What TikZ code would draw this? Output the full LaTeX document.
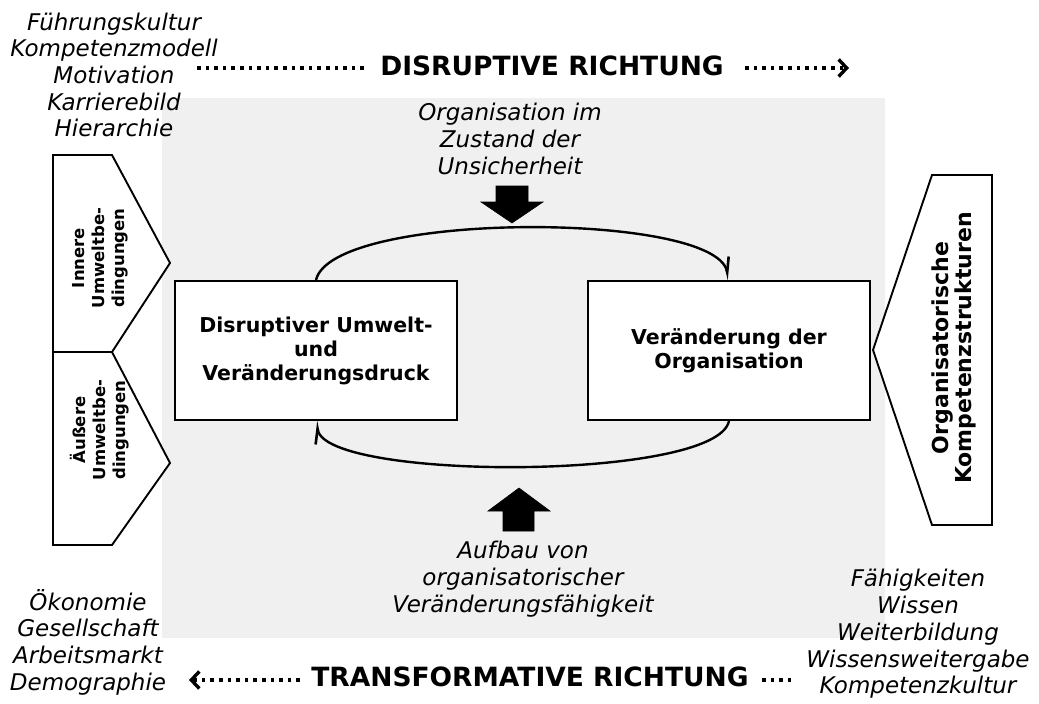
\documentclass[tikz,border=0pt]{standalone}
\usepackage{fontspec}
\setmainfont{DejaVu Sans}
\usetikzlibrary{arrows.meta}
\definecolor{panel}{HTML}{F0F0F0}

\begin{document}
\begin{tikzpicture}[x=1pt,y=-1pt,
  listtext/.style={font=\fontsize{23}{26.7}\selectfont\itshape, align=center, inner sep=0pt},
  dirtitle/.style={font=\fontsize{26.5}{30}\selectfont\bfseries, inner sep=0pt},
  mainbox/.style={draw, line width=1.9pt, fill=white, minimum width=282pt,
    minimum height=139pt, align=center, inner sep=0pt,
    font=\fontsize{20.5}{24}\selectfont\bfseries},
  tab/.style={draw, line width=1.9pt, fill=white, line join=miter},
  tablabel/.style={rotate=90, align=center, inner sep=0pt},
  cycle/.style={line width=2.4pt, -{Straight Barb[harpoon,length=15pt,width=10pt,line width=2.6pt]}},
  dotline/.style={line width=3.6pt, dash pattern=on 3.6pt off 5pt},
  dottip/.style={-{Straight Barb[length=8pt,width=17pt,line width=3.4pt]}},
  block/.style={fill=black, draw=black, line width=0.6pt, line join=miter}
]
\useasboundingbox (0,0) rectangle (1039,704);

% shaded central panel
\fill[panel] (162,98) rectangle (885,638);

% environment tabs on the left
\draw[tab] (53,155) -- (112,155) -- (170,263) -- (112,352) -- (53,352) -- cycle;
\draw[tab] (53,352) -- (112,352) -- (170,463) -- (112,545) -- (53,545) -- cycle;
\node[tablabel, font=\fontsize{16.5}{20}\selectfont\bfseries] (inner) at (100,258) {Innere\\Umweltbe-\\dingungen};
\node[tablabel, font=\fontsize{16.5}{20}\selectfont\bfseries] (outer) at (100,430) {Äußere\\Umweltbe-\\dingungen};

% competence tab on the right
\draw[tab] (932,175) -- (992,175) -- (992,525) -- (932,525) -- (873,350) -- cycle;
\node[tablabel, font=\fontsize{22}{23}\selectfont\bfseries] (comp) at (954,348) {Organisatorische\\Kompetenzstrukturen};

% the two states
\node[mainbox] (press) at (316,350.5) {Disruptiver Umwelt-\\und\\Veränderungsdruck};
\node[mainbox] (change) at (729,350.5) {Veränderung der\\Organisation};

% cycle between them
\draw[cycle] (press.north) .. controls +(16,-69) and +(-16,-69) .. (change.north);
\draw[cycle] (change.south) .. controls +(-12,60) and +(12,60) .. (press.south);

% block arrows
\fill[block] (496,186) -- (528,186) -- (528,202) -- (543,202) -- (512,223) -- (481,202) -- (496,202) -- cycle;
\fill[block] (503,531) -- (534,531) -- (534,511) -- (550,511) -- (519,488) -- (488,511) -- (503,511) -- cycle;

% captions in the panel
\node[listtext] (unsure) at (510,139) {Organisation im\\Zustand der\\Unsicherheit};
\node[listtext] (build) at (523,579) {Aufbau von\\organisatorischer\\Veränderungsfähigkeit};

% factor lists
\node[listtext] (inlist) at (114,75) {Führungskultur\\Kompetenzmodell\\Motivation\\Karrierebild\\Hierarchie};
\node[listtext] (outlist) at (88,642) {Ökonomie\\Gesellschaft\\Arbeitsmarkt\\Demographie};
\node[listtext] (complist) at (918,634) {Fähigkeiten\\Wissen\\Weiterbildung\\Wissensweitergabe\\Kompetenzkultur};

% direction headings with dotted arrows
\node[dirtitle] (disr) at (552,66) {DISRUPTIVE RICHTUNG};
\node[dirtitle] (trans) at (530,677) {TRANSFORMATIVE RICHTUNG};

\coordinate (d0) at (197,68);
\coordinate (d1) at (366,68);
\coordinate (d2) at (745,68);
\coordinate (d3) at (849,68);
\draw[dotline] (d0) -- (d1);
\draw[dotline, dottip] (d2) -- (d3);

\coordinate (t0) at (300,680);
\coordinate (t1) at (189,680);
\coordinate (t2) at (762,680);
\coordinate (t3) at (792,680);
\draw[dotline, dottip] (t0) -- (t1);
\draw[dotline] (t2) -- (t3);
\end{tikzpicture}
\end{document}
